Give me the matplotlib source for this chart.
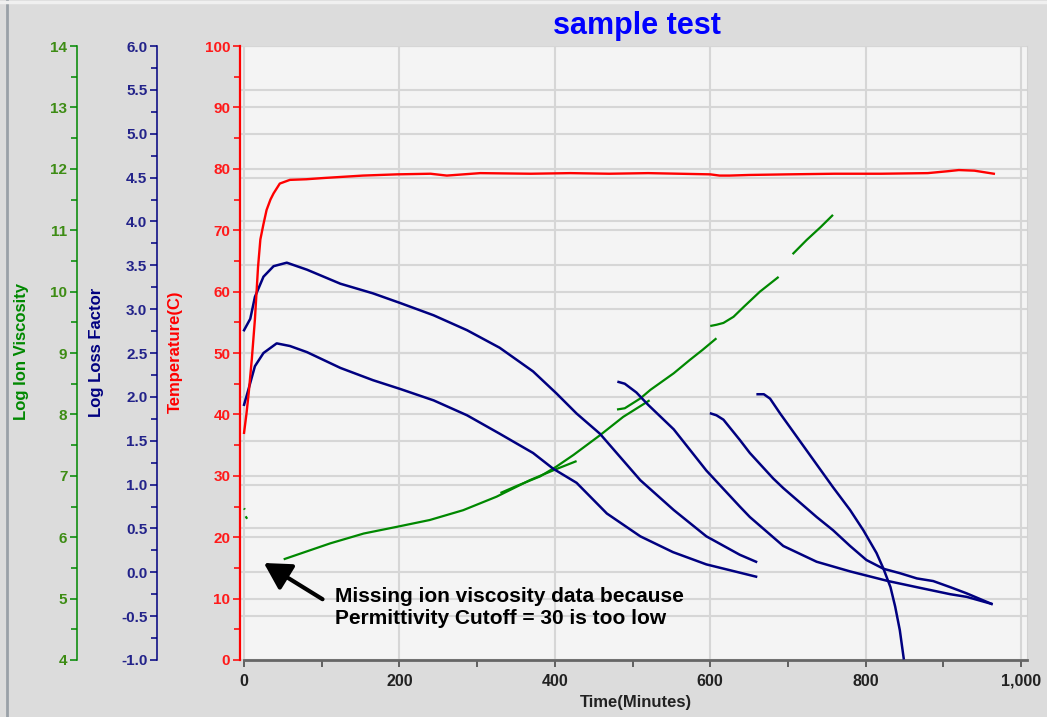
import matplotlib
matplotlib.use("Agg")
import matplotlib.pyplot as plt
import matplotlib.transforms as mtransforms
from matplotlib.lines import Line2D
from matplotlib.ticker import MultipleLocator, FuncFormatter

plt.rcParams['font.family'] = ['Liberation Sans', 'DejaVu Sans']
plt.rcParams['font.weight'] = 'bold'

# ---- temperature (C) ----
temp_time = [0, 3, 6, 10, 14, 18, 21, 25, 29, 34, 38, 46, 59, 80, 102, 153, 197, 240, 261,
             304, 369, 420, 470, 520, 560, 600, 612, 625, 650, 700, 760, 820, 880, 905,
             920, 940, 955, 965]
temp_c = [37, 40, 43.5, 49, 55.5, 64, 68.5, 71, 73.3, 75, 76, 77.6, 78.2, 78.3, 78.5, 78.9,
          79.1, 79.2, 78.9, 79.3, 79.2, 79.3, 79.2, 79.3, 79.2, 79.1, 78.9, 78.9, 79.0, 79.1,
          79.2, 79.2, 79.3, 79.6, 79.8, 79.7, 79.4, 79.2]

# ---- log loss factor, one curve per sweep ----
llf_a_time = [0, 8, 14, 25, 38, 55, 81, 124, 166, 201, 244, 287, 329, 372, 402, 428, 458,
              510, 553, 595, 638, 659]
llf_a = [2.76, 2.89, 3.14, 3.37, 3.49, 3.53, 3.45, 3.29, 3.18, 3.07, 2.93, 2.76, 2.56, 2.29,
         2.04, 1.81, 1.58, 1.05, 0.71, 0.41, 0.20, 0.12]

llf_b_time = [0, 5.5, 14, 25, 42, 59, 81, 124, 166, 201, 244, 287, 329, 372, 398, 428, 467,
              510, 552, 595, 659]
llf_b = [1.91, 2.08, 2.35, 2.50, 2.61, 2.58, 2.51, 2.33, 2.19, 2.09, 1.96, 1.79, 1.58, 1.36,
         1.18, 1.02, 0.67, 0.41, 0.23, 0.09, -0.05]

llf_c_time = [482, 490, 505, 520, 553, 595, 638, 651, 694, 737, 780, 829, 866, 909, 930, 962]
llf_c = [2.17, 2.15, 2.05, 1.91, 1.63, 1.16, 0.75, 0.63, 0.30, 0.12, 0.01, -0.10, -0.17,
         -0.25, -0.28, -0.36]

llf_d_time = [601, 608, 617, 638, 651, 681, 694, 737, 758, 780, 801, 823, 844, 866, 887, 909,
              930, 962]
llf_d = [1.81, 1.79, 1.74, 1.51, 1.36, 1.07, 0.96, 0.63, 0.48, 0.30, 0.14, 0.04, -0.01,
         -0.07, -0.10, -0.17, -0.24, -0.36]

llf_e_time = [661, 669, 677, 690, 724, 758, 780, 797, 814, 823, 832, 838, 844, 849]
llf_e = [2.03, 2.03, 1.98, 1.81, 1.39, 0.97, 0.71, 0.48, 0.22, 0.04, -0.17, -0.39, -0.66,
         -0.98]

# ---- log ion viscosity, broken segments ----
liv_0_time = [0, 1]
liv_0 = [6.47, 6.45]
liv_1_time = [2, 4]
liv_1 = [6.34, 6.30]
liv_2_time = [51, 111, 154, 197, 239, 282, 325, 368, 400, 428]
liv_2 = [5.64, 5.90, 6.06, 6.17, 6.28, 6.44, 6.66, 6.93, 7.10, 7.24]
liv_3_time = [330, 350, 381, 402, 424, 458, 488, 522]
liv_3 = [6.72, 6.83, 6.99, 7.15, 7.34, 7.66, 7.96, 8.23]
liv_4_time = [480, 490, 510, 523, 553, 574, 590, 608]
liv_4 = [8.08, 8.10, 8.26, 8.40, 8.67, 8.89, 9.05, 9.24]
liv_5_time = [600, 608, 617, 630, 643, 664, 688]
liv_5 = [9.44, 9.46, 9.49, 9.59, 9.75, 10.00, 10.24]
liv_6_time = [706, 724, 742, 758]
liv_6 = [10.61, 10.84, 11.05, 11.25]

GREEN = '#008800'
GREEN_LBL = '#3d8c14'
NAVY = '#000080'
NAVY_LBL = '#23238a'
RED = '#ff0000'
RED_LBL = '#ff1a1a'
GRID = '#d6d6d6'

fig = plt.figure(figsize=(10.47, 7.17), dpi=100, facecolor='#dcdcdc')
ax_iv = fig.add_axes([0.2302, 0.0795, 0.7507, 0.8563])
ax_ll = ax_iv.twinx()
ax_t = ax_iv.twinx()

ax_iv.set_facecolor('#f4f4f4')
ax_iv.set_xlim(-3.9, 1007.7)
ax_iv.set_ylim(4, 14)
ax_ll.set_ylim(-1, 6)
ax_t.set_ylim(0, 100)

# curves: green below navy below red
for xs, ys in [(liv_0_time, liv_0), (liv_1_time, liv_1), (liv_2_time, liv_2),
               (liv_3_time, liv_3), (liv_4_time, liv_4), (liv_5_time, liv_5),
               (liv_6_time, liv_6)]:
    ax_iv.plot(xs, ys, color=GREEN, lw=1.6, solid_capstyle='butt')
for xs, ys in [(llf_a_time, llf_a), (llf_b_time, llf_b), (llf_c_time, llf_c),
               (llf_d_time, llf_d), (llf_e_time, llf_e)]:
    ax_ll.plot(xs, ys, color=NAVY, lw=1.8)
ax_t.plot(temp_time, temp_c, color=RED, lw=1.7)

# grid (green majors coincide with temperature majors) + loss factor majors
ax_iv.set_axisbelow(True)
ax_iv.grid(True, which='major', color=GRID, lw=1.5)
ax_ll.yaxis.set_major_locator(MultipleLocator(0.5))
blend = mtransforms.blended_transform_factory(ax_iv.transAxes, ax_ll.transData)
ax_iv.hlines([v for v in ax_ll.get_yticks() if -1 <= v <= 6], 0, 1, transform=blend,
             color=GRID, lw=1.5, zorder=0.5)

# x axis
ax_iv.xaxis.set_major_locator(MultipleLocator(200))
ax_iv.xaxis.set_minor_locator(MultipleLocator(100))
ax_iv.xaxis.set_major_formatter(FuncFormatter(lambda v, p: f'{v:,.0f}'))
ax_iv.tick_params(axis='x', which='both', direction='out', length=5, width=1.3,
                  color='#555555', labelcolor='#222222', labelsize=11.5, pad=5)
ax_iv.spines['bottom'].set_color('#666666')
ax_iv.spines['bottom'].set_linewidth(2)
ax_iv.spines['bottom'].set_bounds(0, 1007.7)

for a in (ax_iv, ax_ll, ax_t):
    a.spines['top'].set_visible(False)
    a.spines['right'].set_visible(False)
    a.spines['left'].set_visible(True)
for a in (ax_ll, ax_t):
    a.spines['bottom'].set_visible(False)
    a.yaxis.tick_left()
    a.yaxis.set_label_position('left')
ax_iv.spines['right'].set_visible(True)
ax_iv.spines['right'].set_color('#d2d2d2')

# left axes
for a, pos, major, minor, col, lcol, lw in [
        (ax_iv, -0.2087, 1, 0.5, GREEN, GREEN_LBL, 1.1),
        (ax_ll, -0.1069, 0.5, 0.25, NAVY, NAVY_LBL, 1.1),
        (ax_t, -0.0013, 10, 5, RED, RED_LBL, 1.6)]:
    a.spines['left'].set_position(('axes', pos))
    a.spines['left'].set_color(col)
    a.spines['left'].set_linewidth(lw)
    a.yaxis.set_major_locator(MultipleLocator(major))
    a.yaxis.set_minor_locator(MultipleLocator(minor))
    a.tick_params(axis='y', which='both', direction='out', color=col, labelcolor=lcol,
                  labelsize=11, width=1.1, pad=2)
    a.tick_params(axis='y', which='major', length=5)
    a.tick_params(axis='y', which='minor', length=4)

ax_iv.yaxis.set_major_formatter(FuncFormatter(lambda v, p: f'{v:.0f}'))
ax_ll.yaxis.set_major_formatter(FuncFormatter(lambda v, p: f'{v:.1f}'))
ax_t.yaxis.set_major_formatter(FuncFormatter(lambda v, p: f'{v:.0f}'))

# axis titles
fig.text(22 / 1047, 1 - 352 / 717, 'Log Ion Viscosity', rotation=90, ha='center',
         va='center', color=GREEN, fontsize=12, fontweight='bold')
fig.text(97 / 1047, 1 - 352 / 717, 'Log Loss Factor', rotation=90, ha='center',
         va='center', color=NAVY, fontsize=12, fontweight='bold')
fig.text(175 / 1047, 1 - 352 / 717, 'Temperature(C)', rotation=90, ha='center',
         va='center', color=RED, fontsize=12, fontweight='bold')
fig.text(636 / 1047, 1 - 702 / 717, 'Time(Minutes)', ha='center', va='center',
         color='#222222', fontsize=12, fontweight='bold')
fig.text(637 / 1047, 1 - 26 / 717, 'sample test', ha='center', va='center',
         color='#0000ff', fontsize=22, fontweight='bold')

# annotation
ax_t.annotate('', xy=(25.5, 15.8), xytext=(101, 9.9),
              arrowprops=dict(arrowstyle='-|>,head_length=0.8,head_width=0.45', lw=3,
                              color='black', shrinkA=0, shrinkB=0, mutation_scale=20))
ax_t.text(117, 8.55, 'Missing ion viscosity data because\nPermittivity Cutoff = 30 is too low',
          ha='left', va='center', fontsize=15, fontweight='bold', color='black',
          linespacing=1.2)

# window frame bits
fig.add_artist(Line2D([7 / 1047, 7 / 1047], [0, 1], color='#9aa1a8', lw=2))
fig.add_artist(Line2D([0, 1], [1 - 1.5 / 717, 1 - 1.5 / 717], color='#f0f0f0', lw=2.5))

fig.savefig('out.png', dpi=100, facecolor=fig.get_facecolor())
